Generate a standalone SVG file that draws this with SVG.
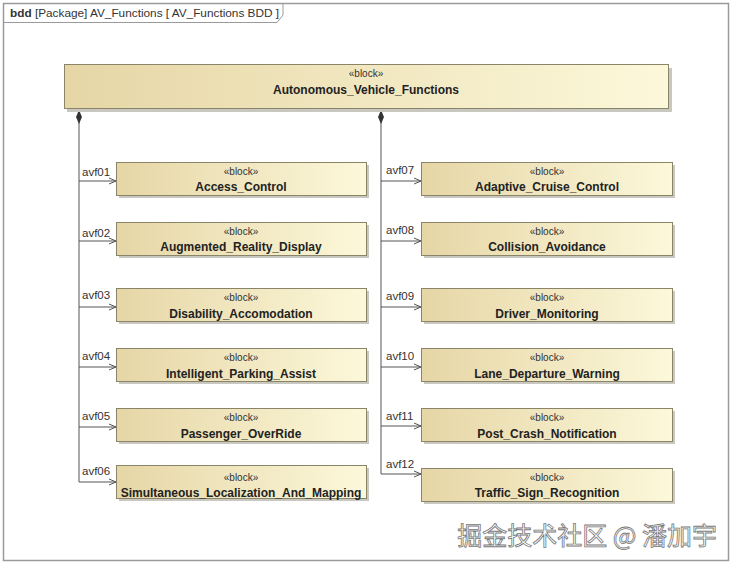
<svg xmlns="http://www.w3.org/2000/svg" width="734" height="565" viewBox="0 0 734 565">
<defs>
<linearGradient id="g" x1="0" y1="0" x2="1" y2="0">
<stop offset="0" stop-color="#e6d6a6"/>
<stop offset="1" stop-color="#fcf8da"/>
</linearGradient>
<marker id="arr" markerWidth="10" markerHeight="10" refX="8" refY="4" orient="auto" markerUnits="userSpaceOnUse">
<path d="M1,1 L8,4 L1,7" fill="none" stroke="#555" stroke-width="1"/>
</marker>
<marker id="dia" markerWidth="8" markerHeight="16" refX="3" refY="0" orient="0" markerUnits="userSpaceOnUse">
<path d="M3,0 L6,7 L3,14 L0,7 Z" fill="#333"/>
</marker>
</defs>
<style>
.sh{fill:#c8c8c0}
.bx{fill:url(#g);stroke:#8a8468;stroke-width:1}
.st{font-family:"Liberation Sans",Arial,sans-serif;font-size:10px;fill:#333;text-anchor:middle}
.nm{font-family:"Liberation Sans",Arial,sans-serif;font-size:12px;font-weight:bold;fill:#222;text-anchor:middle}
.lb{font-family:"Liberation Sans",Arial,sans-serif;font-size:11.5px;fill:#333}
.ln{fill:none;stroke:#555;stroke-width:1}
</style>
<rect width="734" height="565" fill="#fff"/>
<g id="frame">
<rect x="3.5" y="3.5" width="725" height="557" fill="none" stroke="#9a9a9a" stroke-width="1.5"/>
<path d="M3.5,22.5 H277 L283,15 V3.5" fill="none" stroke="#9a9a9a" stroke-width="1"/>
<text x="10" y="16.5" font-family="Liberation Sans,Arial,sans-serif" font-size="11.8" fill="#333"><tspan font-weight="bold">bdd</tspan> [Package] AV_Functions [ AV_Functions BDD ]</text>
</g>
<g id="connectors">
<path class="ln" d="M79,110 V482 H116" marker-start="url(#dia)" marker-end="url(#arr)"/>
<path class="ln" d="M79,181 H116" marker-end="url(#arr)"/>
<path class="ln" d="M79,241 H116" marker-end="url(#arr)"/>
<path class="ln" d="M79,307 H116" marker-end="url(#arr)"/>
<path class="ln" d="M79,367 H116" marker-end="url(#arr)"/>
<path class="ln" d="M79,427 H116" marker-end="url(#arr)"/>
<path class="ln" d="M381,110 V474 H421" marker-start="url(#dia)" marker-end="url(#arr)"/>
<path class="ln" d="M381,181 H421" marker-end="url(#arr)"/>
<path class="ln" d="M381,241 H421" marker-end="url(#arr)"/>
<path class="ln" d="M381,307 H421" marker-end="url(#arr)"/>
<path class="ln" d="M381,367 H421" marker-end="url(#arr)"/>
<path class="ln" d="M381,426 H421" marker-end="url(#arr)"/>
<text class="lb" x="82" y="176">avf01</text>
<text class="lb" x="82" y="237">avf02</text>
<text class="lb" x="82" y="299">avf03</text>
<text class="lb" x="82" y="360">avf04</text>
<text class="lb" x="82" y="420">avf05</text>
<text class="lb" x="82" y="475">avf06</text>
<text class="lb" x="386" y="174">avf07</text>
<text class="lb" x="386" y="234">avf08</text>
<text class="lb" x="386" y="300">avf09</text>
<text class="lb" x="386" y="360">avf10</text>
<text class="lb" x="386" y="420">avf11</text>
<text class="lb" x="386" y="468">avf12</text>
</g>
<g id="Autonomous_Vehicle_Functions">
<rect class="sh" x="67" y="68" width="605" height="44"/>
<rect class="bx" x="64.5" y="64.5" width="604" height="44"/>
<text class="st" x="366" y="77">«block»</text>
<text class="nm" x="366" y="94">Autonomous_Vehicle_Functions</text>
</g>
<g id="Access_Control">
<rect class="sh" x="119" y="165" width="250" height="33"/>
<rect class="bx" x="116.5" y="162.5" width="250" height="33"/>
<text class="st" x="241" y="175">«block»</text>
<text class="nm" x="241" y="191">Access_Control</text>
</g>
<g id="Augmented_Reality_Display">
<rect class="sh" x="119" y="225" width="250" height="33"/>
<rect class="bx" x="116.5" y="222.5" width="250" height="33"/>
<text class="st" x="241" y="235">«block»</text>
<text class="nm" x="241" y="251">Augmented_Reality_Display</text>
</g>
<g id="Disability_Accomodation">
<rect class="sh" x="119" y="291" width="250" height="33"/>
<rect class="bx" x="116.5" y="288.5" width="250" height="33"/>
<text class="st" x="241" y="301">«block»</text>
<text class="nm" x="241" y="318">Disability_Accomodation</text>
</g>
<g id="Intelligent_Parking_Assist">
<rect class="sh" x="119" y="351" width="250" height="33"/>
<rect class="bx" x="116.5" y="348.5" width="250" height="33"/>
<text class="st" x="241" y="361">«block»</text>
<text class="nm" x="241" y="378">Intelligent_Parking_Assist</text>
</g>
<g id="Passenger_OverRide">
<rect class="sh" x="119" y="411" width="250" height="33"/>
<rect class="bx" x="116.5" y="408.5" width="250" height="33"/>
<text class="st" x="241" y="421">«block»</text>
<text class="nm" x="241" y="438">Passenger_OverRide</text>
</g>
<g id="Simultaneous_Localization_And_Mapping">
<rect class="sh" x="119" y="468" width="250" height="33"/>
<rect class="bx" x="116.5" y="465.5" width="250" height="33"/>
<text class="st" x="241" y="481">«block»</text>
<text class="nm" x="241" y="497">Simultaneous_Localization_And_Mapping</text>
</g>
<g id="Adaptive_Cruise_Control">
<rect class="sh" x="424" y="165" width="251" height="33"/>
<rect class="bx" x="421.5" y="162.5" width="251" height="33"/>
<text class="st" x="547" y="175">«block»</text>
<text class="nm" x="547" y="191">Adaptive_Cruise_Control</text>
</g>
<g id="Collision_Avoidance">
<rect class="sh" x="424" y="225" width="251" height="33"/>
<rect class="bx" x="421.5" y="222.5" width="251" height="33"/>
<text class="st" x="547" y="235">«block»</text>
<text class="nm" x="547" y="251">Collision_Avoidance</text>
</g>
<g id="Driver_Monitoring">
<rect class="sh" x="424" y="291" width="251" height="33"/>
<rect class="bx" x="421.5" y="288.5" width="251" height="33"/>
<text class="st" x="547" y="301">«block»</text>
<text class="nm" x="547" y="318">Driver_Monitoring</text>
</g>
<g id="Lane_Departure_Warning">
<rect class="sh" x="424" y="351" width="251" height="33"/>
<rect class="bx" x="421.5" y="348.5" width="251" height="33"/>
<text class="st" x="547" y="361">«block»</text>
<text class="nm" x="547" y="378">Lane_Departure_Warning</text>
</g>
<g id="Post_Crash_Notification">
<rect class="sh" x="424" y="411" width="251" height="33"/>
<rect class="bx" x="421.5" y="408.5" width="251" height="33"/>
<text class="st" x="547" y="421">«block»</text>
<text class="nm" x="547" y="438">Post_Crash_Notification</text>
</g>
<g id="Traffic_Sign_Recognition">
<rect class="sh" x="424" y="471" width="251" height="33"/>
<rect class="bx" x="421.5" y="468.5" width="251" height="33"/>
<text class="st" x="547" y="481">«block»</text>
<text class="nm" x="547" y="497">Traffic_Sign_Recognition</text>
</g>
<g id="watermark">
<text x="717" y="545" text-anchor="end" font-family="Noto Sans CJK SC, sans-serif" font-size="25" fill="#fff" stroke="#777" stroke-width="0.8">掘金技术社区 @ 潘加宇</text>
</g>
</svg>
